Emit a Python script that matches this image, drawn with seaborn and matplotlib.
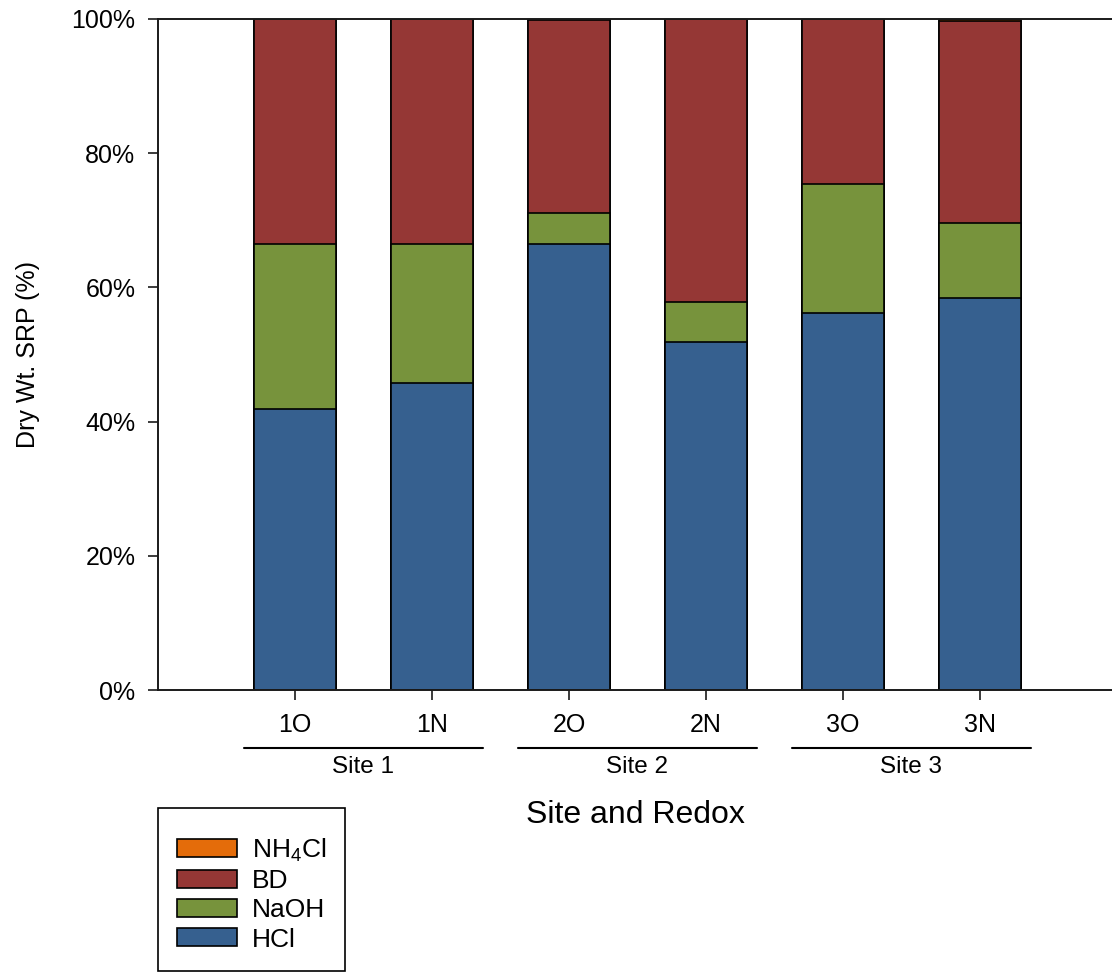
import numpy as np
import pandas as pd
import matplotlib
matplotlib.use("Agg")
import matplotlib.pyplot as plt
from matplotlib import font_manager
from matplotlib.patches import Patch
import seaborn as sns

# Sequential P fractionation, share of dry-weight SRP per fraction
samples = ["1O", "1N", "2O", "2N", "3O", "3N"]
sites = ["Site 1", "Site 2", "Site 3"]
hcl = [41.9, 45.8, 66.5, 51.9, 56.2, 58.4]
naoh = [24.6, 20.7, 4.6, 5.9, 19.2, 11.2]
nh4cl = [0.05, 0.05, 0.15, 0.05, 0.05, 0.25]
bd = [100 - a - b - c for a, b, c in zip(hcl, naoh, nh4cl)]

fractions = ["HCl", "NaOH", "BD", "NH4Cl"]
colors = {"HCl": "#36608F", "NaOH": "#77933C", "BD": "#953735", "NH4Cl": "#E46C0A"}
legend_labels = {"HCl": "HCl", "NaOH": "NaOH", "BD": "BD",
                 "NH4Cl": r"NH$_\mathregular{4}$Cl"}

sns.set_theme(style="white")
plt.rcParams["font.family"] = ["Liberation Sans", "DejaVu Sans"]
plt.rcParams["mathtext.fontset"] = "custom"
plt.rcParams["mathtext.rm"] = "Liberation Sans"
plt.rcParams["text.color"] = "black"
plt.rcParams["axes.labelcolor"] = "black"
plt.rcParams["xtick.color"] = "black"
plt.rcParams["ytick.color"] = "black"

try:
    font_manager.findfont("Liberation Sans Narrow", fallback_to_default=False)
    narrow, ylab_size = "Liberation Sans Narrow", 20.5
except Exception:
    narrow, ylab_size = "Liberation Sans", 18

W, H = 1112, 973
fig = plt.figure(figsize=(W / 100, H / 100), dpi=100)
ax = fig.add_axes([158 / W, (H - 690) / H, (W - 158) / W, 671 / H])

# cumulative stack heights, drawn from the tallest down
df = pd.DataFrame({"sample": samples, "HCl": hcl, "NaOH": naoh, "BD": bd, "NH4Cl": nh4cl})
cum = df[fractions].cumsum(axis=1)
for frac in reversed(fractions):
    sns.barplot(data=cum.assign(sample=samples), x="sample", y=frac, order=samples,
                color=colors[frac], saturation=1, width=0.6, errorbar=None,
                edgecolor="black", linewidth=1.2, ax=ax)

ax.set_xlim(-1.0, -1.0 + 954 / 137)
ax.set_ylim(0, 100)
ax.set_yticks(np.arange(0, 101, 20))
ax.set_yticklabels([f"{v}%" for v in range(0, 101, 20)])

for s in ["left", "bottom", "top"]:
    ax.spines[s].set_visible(True)
    ax.spines[s].set_color("#1a1a1a")
    ax.spines[s].set_linewidth(1.4)
ax.spines["right"].set_visible(False)

ax.tick_params(axis="y", direction="out", length=7.2, width=1.2, color="#1a1a1a",
               labelsize=18, pad=9.0, left=True, labelcolor="black")
ax.tick_params(axis="x", direction="out", length=7.2, width=1.2, color="#1a1a1a",
               labelsize=18, pad=9.2, bottom=True, labelcolor="black")

ax.set_xlabel("")
ax.set_ylabel("Dry Wt. SRP (%)", family=[narrow, "DejaVu Sans"], fontsize=ylab_size,
              va="center", color="black")
ax.yaxis.set_label_coords((28 - 158) / 954, 0.5)

# site grouping lines and labels under the tick labels
tr = ax.get_xaxis_transform()
y_line = (690 - 748) / 671
y_site = (690 - 773) / 671
for i, site in enumerate(sites):
    c = 2 * i + 0.5
    ax.plot([c - 0.875, c + 0.875], [y_line, y_line], color="black", lw=1.5,
            transform=tr, clip_on=False)
    ax.text(c, y_site, site, ha="center", va="baseline", fontsize=17.5, transform=tr)

ax.text(0.5, (690 - 823) / 671, "Site and Redox", ha="center", va="baseline",
        fontsize=23, transform=ax.transAxes)

handles = [Patch(facecolor=colors[f], edgecolor="black", linewidth=1.2,
                 label=legend_labels[f]) for f in reversed(fractions)]
leg = fig.legend(handles=handles, loc="upper left",
                 bbox_to_anchor=(158 / W, 1 - 808 / H), bbox_transform=fig.transFigure,
                 fontsize=19, title=" ", title_fontsize=2.5,
                 frameon=True, fancybox=False, shadow=False,
                 framealpha=1, borderpad=0.72, handlelength=2.27, handleheight=0.68,
                 handletextpad=0.57, labelspacing=0.2, borderaxespad=0)
leg.get_frame().set_edgecolor("black")
leg.get_frame().set_linewidth(1.2)

fig.savefig("out.png", dpi=100)
